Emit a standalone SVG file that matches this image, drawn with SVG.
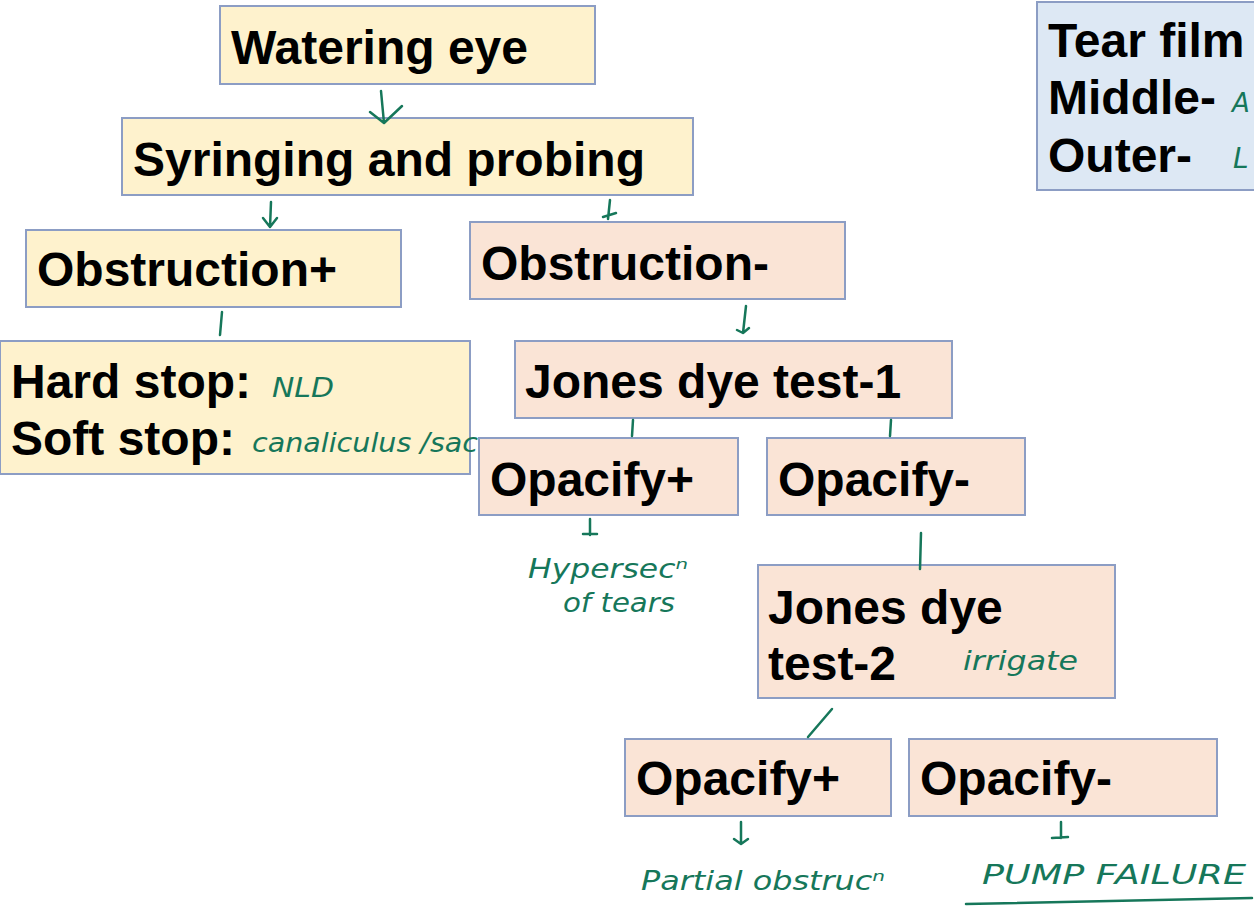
<svg xmlns="http://www.w3.org/2000/svg" width="1254" height="907" viewBox="0 0 1254 907">
<defs>
<style>
.y{fill:#fef2cd;stroke:#8c9dc4;stroke-width:2}
.p{fill:#fae4d6;stroke:#8c9dc4;stroke-width:2}
.b{fill:#dde8f4;stroke:#8c9dc4;stroke-width:2}
.t{font-family:"Liberation Sans",Arial,sans-serif;font-weight:bold;font-size:48px;fill:#000}
.h{font-family:"DejaVu Sans","Liberation Sans",sans-serif;font-style:italic;font-size:27px;fill:#16775a}
.c{stroke:#16775a;stroke-width:2.5;fill:none;stroke-linecap:round;stroke-linejoin:round}
</style>
</defs>
<rect width="1254" height="907" fill="#fff"/>
<g id="tear-film"><rect class="b" x="1037" y="2" width="230" height="188"/>
<text class="t" x="1048" y="57">Tear film</text>
<text class="t" x="1048" y="114">Middle-</text>
<text class="t" x="1048" y="172">Outer-</text>
<text class="h" x="1232" y="112" style="font-size:26px">A</text>
<text class="h" x="1233" y="168" style="font-size:28px">L</text></g>
<g id="watering-eye"><rect class="y" x="220" y="6" width="375" height="78"/><text class="t" x="231" y="64">Watering eye</text></g>
<g id="syringing"><rect class="y" x="122" y="118" width="571" height="77"/><text class="t" x="133" y="176">Syringing and probing</text></g>
<g id="obstruction-plus"><rect class="y" x="26" y="230" width="375" height="77"/><text class="t" x="37" y="286">Obstruction+</text></g>
<g id="obstruction-minus"><rect class="p" x="470" y="222" width="375" height="77"/><text class="t" x="481" y="280">Obstruction-</text></g>
<g id="stops"><rect class="y" x="0" y="341" width="470" height="133"/>
<text class="t" x="11" y="398">Hard stop:</text>
<text class="t" x="11" y="455">Soft stop:</text>
<text class="h" x="272" y="397" textLength="62" lengthAdjust="spacingAndGlyphs">NLD</text>
<text class="h" x="252" y="452" textLength="226" lengthAdjust="spacingAndGlyphs">canaliculus /sac</text></g>
<g id="jones-1"><rect class="p" x="515" y="341" width="437" height="77"/><text class="t" x="525" y="398">Jones dye test-1</text></g>
<g id="opacify-plus-1"><rect class="p" x="479" y="438" width="259" height="77"/><text class="t" x="490" y="496">Opacify+</text></g>
<g id="opacify-minus-1"><rect class="p" x="767" y="438" width="258" height="77"/><text class="t" x="778" y="496">Opacify-</text></g>
<g id="hypersec"><text class="h" x="528" y="578" textLength="160" lengthAdjust="spacingAndGlyphs">Hypersecⁿ</text><text class="h" x="563" y="612" textLength="112" lengthAdjust="spacingAndGlyphs">of tears</text></g>
<g id="jones-2"><rect class="p" x="758" y="565" width="357" height="133"/>
<text class="t" x="768" y="624">Jones dye</text>
<text class="t" x="768" y="680">test-2</text>
<text class="h" x="963" y="670" textLength="115" lengthAdjust="spacingAndGlyphs">irrigate</text></g>
<g id="opacify-plus-2"><rect class="p" x="625" y="739" width="266" height="77"/><text class="t" x="636" y="795">Opacify+</text></g>
<g id="opacify-minus-2"><rect class="p" x="909" y="739" width="308" height="77"/><text class="t" x="920" y="795">Opacify-</text></g>
<g id="partial"><text class="h" x="641" y="890" textLength="244" lengthAdjust="spacingAndGlyphs">Partial obstrucⁿ</text></g>
<g id="pump"><text class="h" x="982" y="884" textLength="264" lengthAdjust="spacingAndGlyphs">PUMP FAILURE</text><path class="c" d="M966 904 L1252 898"/></g>
<g id="connectors">
<path class="c" d="M381 91 L384 123 M370 112 L384 123 L402 106"/>
<path class="c" d="M271 202 L270 227 M263 218 L270 227 L277 218"/>
<path class="c" d="M610 200 L608 219 M603 217 L616 213"/>
<path class="c" d="M222 312 L220 335"/>
<path class="c" d="M746 306 L743 333 M737 330 L743 333 L749 328"/>
<path class="c" d="M633 420 L632 436"/>
<path class="c" d="M891 420 L890 436"/>
<path class="c" d="M590 519 L590 535 M583 534 L597 534"/>
<path class="c" d="M921 533 L920 569"/>
<path class="c" d="M832 709 L808 737"/>
<path class="c" d="M741 822 L741 844 M734 839 L741 844 L748 839"/>
<path class="c" d="M1061 822 L1061 838 M1052 838 L1068 837"/>
</g>
</svg>
